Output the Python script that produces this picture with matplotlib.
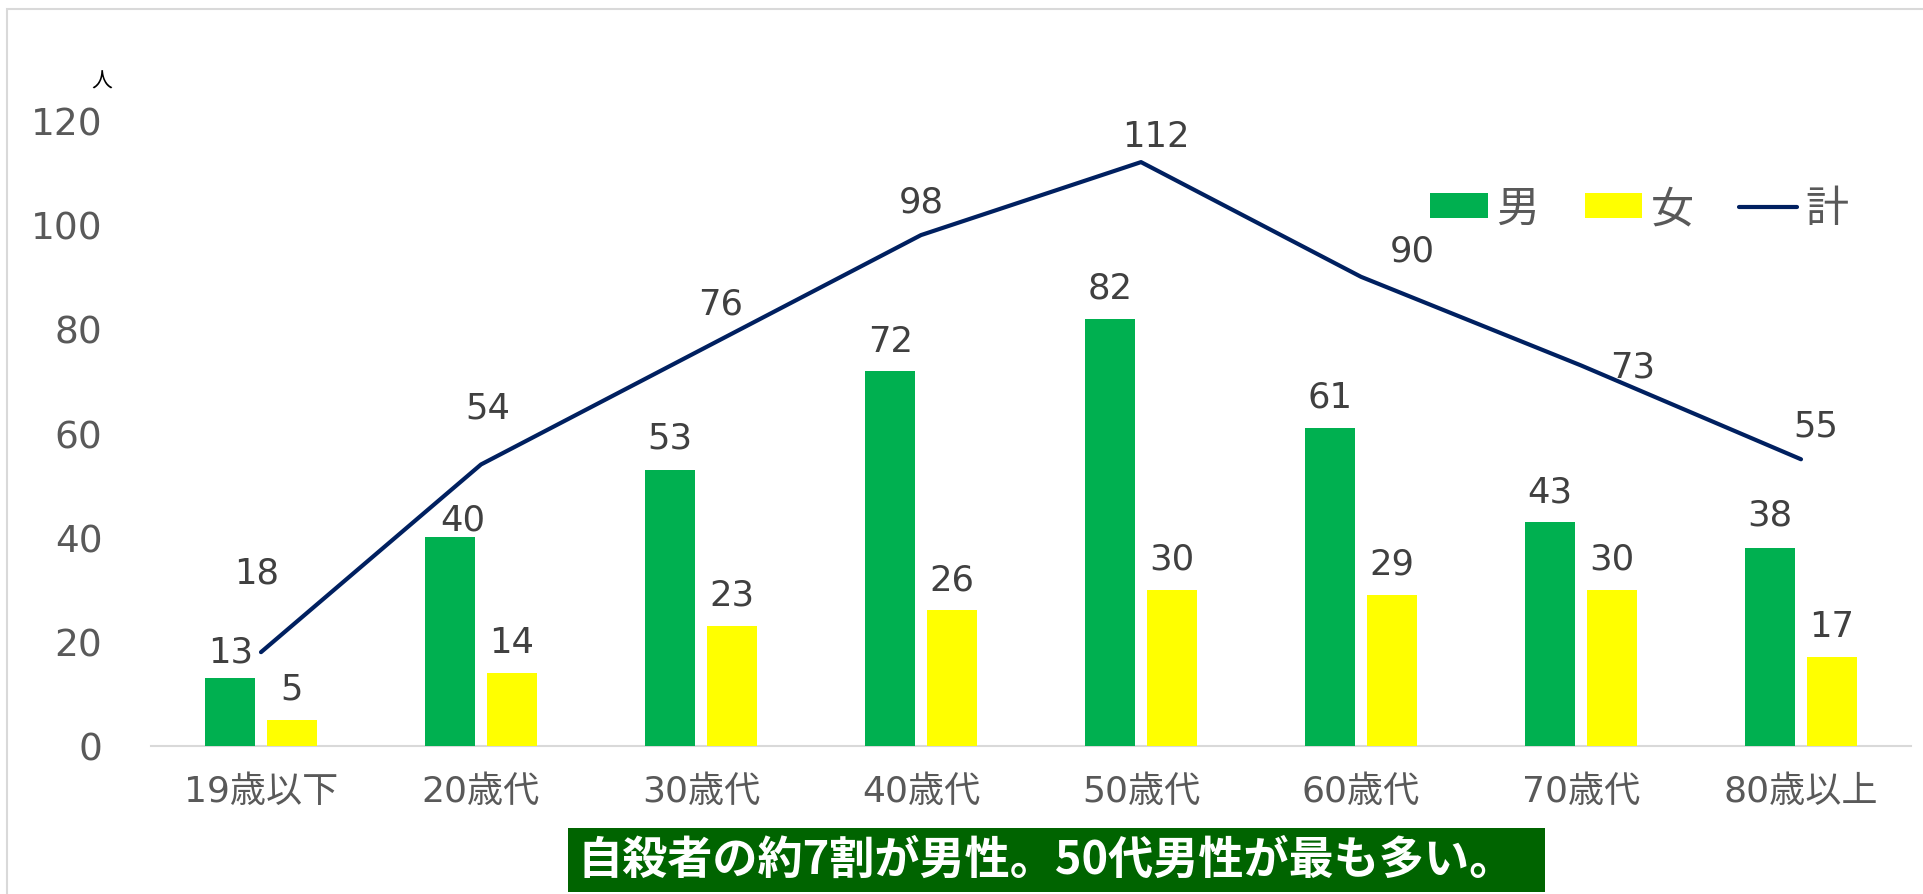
import matplotlib.pyplot as plt
from matplotlib.patches import Rectangle
import numpy as np

# data
ages = ['19歳以下', '20歳代', '30歳代', '40歳代', '50歳代', '60歳代', '70歳代', '80歳以上']
male = [13, 40, 53, 72, 82, 61, 43, 38]
female = [5, 14, 23, 26, 30, 29, 30, 17]
total = [18, 54, 76, 98, 112, 90, 73, 55]
caption = '自殺者の約7割が男性。50代男性が最も多い。'

# label offsets in points (dx, dy) - hand placed like the original
male_off = [(0, 19), (9, 13), (0, 23), (0, 21), (0, 22), (0, 23), (0, 22), (0, 24)]
total_off = [(-3, 57), (5, 41), (14, 33), (0, 24), (11, 19), (37, 19), (37, -1), (11, 24)]

plt.rcParams['font.family'] = ['DejaVu Sans', 'Noto Sans CJK JP']

GREEN = '#00B050'
YELLOW = '#FFFF00'
NAVY = '#002060'
GRAY = '#595959'
LBL = '#404040'

W, H = 1923, 895
fig = plt.figure(figsize=(W / 100, H / 100), dpi=100)
ax = fig.add_axes([151 / W, 148 / H, (1911 - 151) / W, (747 - 121.4) / H])

x = np.arange(len(ages))
bw = 0.227
b1 = ax.bar(x - 0.14, male, bw, color=GREEN, label='男', zorder=2)
b2 = ax.bar(x + 0.14, female, bw, color=YELLOW, label='女', zorder=2)
ln, = ax.plot(x, total, color=NAVY, lw=3, label='計', zorder=3, solid_capstyle='round')

for xi, v, off in zip(x - 0.14, male, male_off):
    ax.annotate(str(v), (xi, v), xytext=off, textcoords='offset points',
                ha='center', va='center', fontsize=25.5, color=LBL)
for xi, v in zip(x + 0.14, female):
    ax.annotate(str(v), (xi, v), xytext=(0, 22.5), textcoords='offset points',
                ha='center', va='center', fontsize=25.5, color=LBL)
for xi, v, off in zip(x, total, total_off):
    ax.annotate(str(v), (xi, v), xytext=off, textcoords='offset points',
                ha='center', va='center', fontsize=25.5, color=LBL, zorder=4)

ax.set_xlim(-0.5, len(ages) - 0.5)
ax.set_ylim(0, 120)
ax.set_yticks(range(0, 121, 20))
ax.set_xticks(x)
ax.set_xticklabels(ages, fontsize=26, color=GRAY)
ax.tick_params(axis='y', length=0, pad=35, labelsize=27, labelcolor=GRAY)
ax.tick_params(axis='x', length=0, pad=20)
for s in ['top', 'right', 'left']:
    ax.spines[s].set_visible(False)
ax.spines['bottom'].set_color('#D9D9D9')
ax.spines['bottom'].set_linewidth(1.5)
ax.spines['bottom'].set_zorder(1)

leg = fig.legend(handles=[b1, b2, ln], loc='center left',
                 bbox_to_anchor=(1430 / W, 1 - 210 / H), ncol=3, frameon=False,
                 fontsize=31, handlelength=1.34, handleheight=0.5,
                 handletextpad=0.2, columnspacing=1.05, borderpad=0, borderaxespad=0)
for t in leg.get_texts():
    t.set_color(GRAY)

fig.text(102 / W, 1 - 82 / H, '人', ha='center', va='center', fontsize=15, color='black',
         family=['Noto Sans CJK JP'])

# outer border
fig.patches.append(Rectangle((7 / W, -0.05), 1.1, 1 - 10 / H + 0.05, transform=fig.transFigure,
                             fill=False, edgecolor='#D9D9D9', lw=1.5, zorder=0))

# caption box
fig.patches.append(Rectangle((568 / W, 1 - 893 / H), (1545 - 568) / W, (893 - 829) / H,
                             transform=fig.transFigure, facecolor='#006400',
                             edgecolor='none', zorder=5))
fig.text(1046 / W, 1 - 861 / H, caption, ha='center', va='center', fontsize=32.5,
         color='white', weight='bold', family=['Noto Sans CJK JP'], zorder=6)

fig.savefig('out.png', dpi=100)
